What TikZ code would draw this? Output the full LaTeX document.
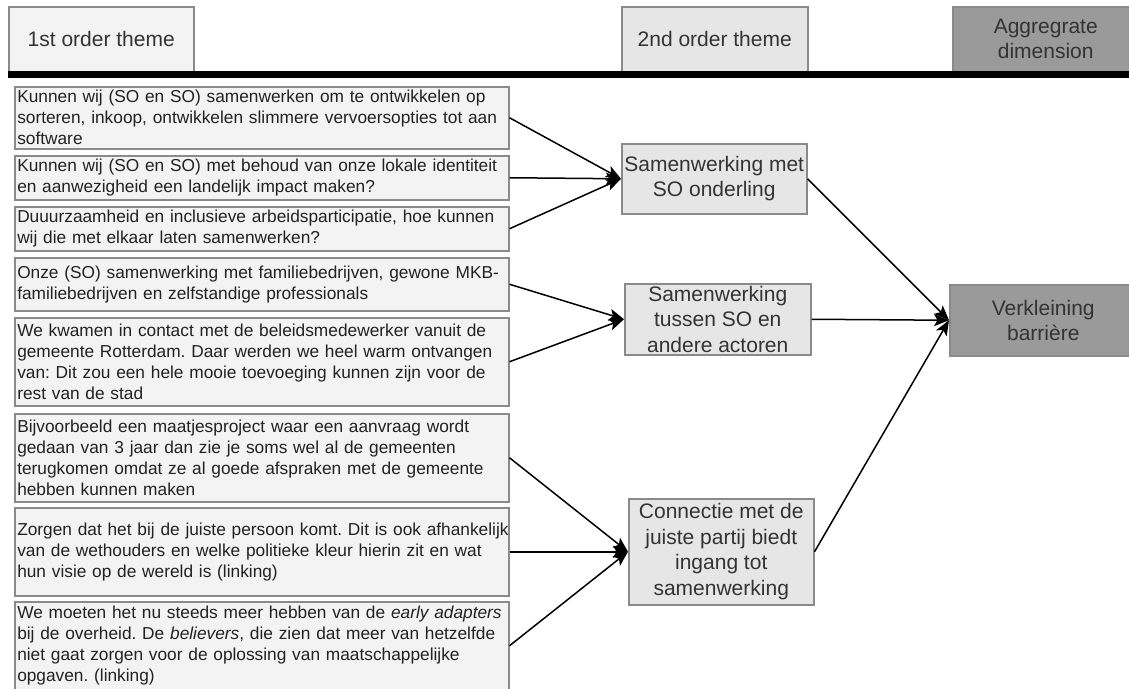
\documentclass[tikz,border=0pt]{standalone}
\usepackage{fontspec}
\setmainfont{Liberation Sans}
\usetikzlibrary{arrows.meta}

\definecolor{boxline}{HTML}{8A8A8A}
\definecolor{paleFill}{HTML}{F3F3F3}
\definecolor{midFill}{HTML}{E6E6E6}
\definecolor{darkFill}{HTML}{9A9A9A}
\definecolor{inkText}{HTML}{333333}
\definecolor{quoteText}{HTML}{222222}

% one unbreakable line of a quote
\newcommand{\qline}[1]{\mbox{#1}}

\tikzset{
  quotebox/.style={draw=boxline, line width=1.5pt, fill=paleFill, anchor=north west,
    inner xsep=2.5pt, inner ysep=0pt, text width=489pt, minimum width=494pt,
    align=left, text=quoteText, font=\fontsize{17.3}{21}\selectfont\frenchspacing},
  themebox/.style={draw=boxline, line width=1.5pt, fill=midFill, anchor=north west,
    inner sep=1pt, align=center, text=inkText, font=\fontsize{21}{25.5}\selectfont},
  headbox/.style={draw=boxline, line width=1.5pt, anchor=north west,
    inner sep=1pt, align=center, text=inkText, font=\fontsize{21}{25}\selectfont},
  link/.style={line width=1.5pt, -{Stealth[length=15pt,width=12pt,inset=3.5pt]}},
}

\begin{document}
\begin{tikzpicture}[x=1pt,y=-1pt]
\useasboundingbox (0,0) rectangle (1129,688);
\clip (0,0) rectangle (1129,688);
\fill[white] (0,0) rectangle (1129,688);

% column headers
\node[headbox, fill=paleFill, minimum width=185pt, minimum height=65pt] (H1) at (8,6) {1st order theme};
\node[headbox, fill=midFill, minimum width=186pt, minimum height=65pt] (H2) at (621,6) {2nd order theme};
\node[headbox, fill=darkFill, minimum width=186pt, minimum height=65pt] (H3) at (952,6) {Aggregrate\\dimension};
\coordinate (ruleL) at (8,74.5);
\coordinate (ruleR) at (1135,74.5);
\draw[line width=7pt, black] (ruleL) -- (ruleR);

% first order themes
\node[quotebox, minimum height=62pt] (L1) at (14,86) {\qline{Kunnen wij (SO en SO) samenwerken om te ontwikkelen op}\\\qline{sorteren, inkoop, ontwikkelen slimmere vervoersopties tot aan}\\\qline{software}};
\node[quotebox, minimum height=44pt] (L2) at (14,155) {\qline{Kunnen wij (SO en SO) met behoud van onze lokale identiteit}\\\qline{en aanwezigheid een landelijk impact maken?}};
\node[quotebox, minimum height=44pt] (L3) at (14,206) {\qline{Duuurzaamheid en inclusieve arbeidsparticipatie, hoe kunnen}\\\qline{wij die met elkaar laten samenwerken?}};
\node[quotebox, minimum height=53pt] (L4) at (14,257) {\qline{Onze (SO) samenwerking met familiebedrijven, gewone MKB-}\\\qline{familiebedrijven en zelfstandige professionals}};
\node[quotebox, minimum height=88pt] (L5) at (14,317) {\qline{We kwamen in contact met de beleidsmedewerker vanuit de}\\\qline{gemeente Rotterdam. Daar werden we heel warm ontvangen}\\\qline{van: Dit zou een hele mooie toevoeging kunnen zijn voor de}\\\qline{rest van de stad}};
\node[quotebox, minimum height=88pt] (L6) at (14,413) {\qline{Bijvoorbeeld een maatjesproject waar een aanvraag wordt}\\\qline{gedaan van 3 jaar dan zie je soms wel al de gemeenten}\\\qline{terugkomen omdat ze al goede afspraken met de gemeente}\\\qline{hebben kunnen maken}};
\node[quotebox, minimum height=88pt] (L7) at (14,507) {\qline{Zorgen dat het bij de juiste persoon komt. Dit is ook afhankelijk}\\\qline{van de wethouders en welke politieke kleur hierin zit en wat}\\\qline{hun visie op de wereld is (linking)}};
\node[quotebox, minimum height=88pt] (L8) at (14,601) {\qline{We moeten het nu steeds meer hebben van de \textit{early adapters}}\\\qline{bij de overheid. De \textit{believers}, die zien dat meer van hetzelfde}\\\qline{niet gaat zorgen voor de oplossing van maatschappelijke}\\\qline{opgaven. (linking)}};

% second order themes
\node[themebox, minimum width=185pt, minimum height=70pt] (M1) at (621,143) {Samenwerking met\\SO onderling};
\node[themebox, minimum width=186pt, minimum height=71pt] (M2) at (624,283) {Samenwerking\\tussen SO en\\andere actoren};
\node[themebox, minimum width=185pt, minimum height=106pt] (M3) at (628,498) {Connectie met de\\juiste partij biedt\\ingang tot\\samenwerking};

% aggregate dimension
\node[headbox, fill=darkFill, minimum width=187pt, minimum height=71pt] (R) at (949,284) {Verkleining\\barrière};

% connectors
\draw[link] (L1.east) -- (M1.west);
\draw[link] (L2.east) -- (M1.west);
\draw[link] (L3.east) -- (M1.west);
\draw[link] (L4.east) -- (M2.west);
\draw[link] (L5.east) -- (M2.west);
\draw[link] (L6.east) -- (M3.west);
\draw[link] (L7.east) -- (M3.west);
\draw[link] (L8.east) -- (M3.west);
\draw[link] (M1.east) -- (R.west);
\draw[link] (M2.east) -- (R.west);
\draw[link] (M3.east) -- (R.west);
\end{tikzpicture}
\end{document}
